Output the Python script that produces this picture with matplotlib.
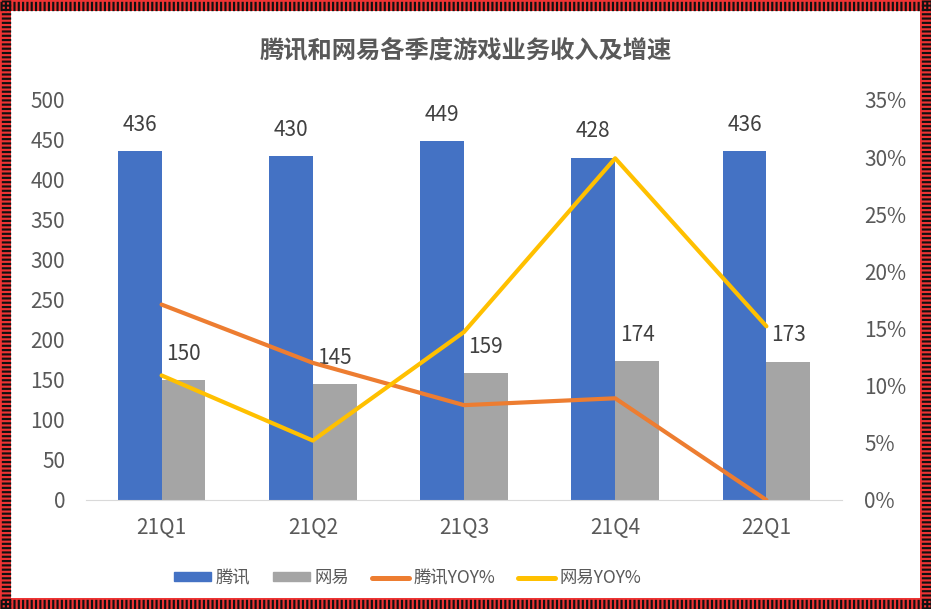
import matplotlib
matplotlib.use("Agg")
import matplotlib.pyplot as plt
import numpy as np
from matplotlib.patches import Rectangle
from matplotlib.lines import Line2D

plt.rcParams['font.family'] = ['Noto Sans CJK SC', 'DejaVu Sans']
plt.rcParams['lines.scale_dashes'] = False

categories = ['21Q1', '21Q2', '21Q3', '21Q4', '22Q1']
tencent = [436, 430, 449, 428, 436]
netease = [150, 145, 159, 174, 173]
tencent_yoy = [17.1, 12.0, 8.3, 8.9, 0.0]
netease_yoy = [10.9, 5.2, 14.7, 29.9, 15.2]
left_ticks = [0, 50, 100, 150, 200, 250, 300, 350, 400, 450, 500]
right_ticks = [0, 5, 10, 15, 20, 25, 30, 35]

W, H = 931, 609
fig = plt.figure(figsize=(W/100, H/100), dpi=100)

# border
bw = 11
d = 1.55
for (x0, y0, w, h, horiz) in [(0, H-bw, W, bw, True), (0, 0, W, bw, True),
                               (0, 0, bw, H, False), (W-bw, 0, bw, H, False)]:
    fig.patches.append(Rectangle((x0/W, y0/H), w/W, h/H, transform=fig.transFigure,
                                 facecolor='#EE3333', edgecolor='none', zorder=0))
    if horiz:
        yc = (y0 + h/2)/H
        fig.add_artist(Line2D([x0/W, (x0+w)/W], [yc, yc], transform=fig.transFigure,
                              color='#111111', lw=h*0.72*0.85, linestyle=(0, (d, d)),
                              solid_capstyle='butt', dash_capstyle='butt'))
    else:
        xc = (x0 + w/2)/W
        fig.add_artist(Line2D([xc, xc], [y0/H, (y0+h)/H], transform=fig.transFigure,
                              color='#111111', lw=w*0.72*0.85, linestyle=(0, (d, d)),
                              solid_capstyle='butt', dash_capstyle='butt'))

ax = fig.add_axes([86/W, 1-500/H, (842-86)/W, 400/H])
x = np.arange(len(categories))
bwid = 0.29
ax.bar(x - bwid/2, tencent, bwid, color='#4472C4', zorder=2)
ax.bar(x + bwid/2, netease, bwid, color='#A5A5A5', zorder=2)
ax.set_xlim(-0.5, len(categories)-0.5)
ax.set_ylim(0, 500)
ax.set_yticks(left_ticks)
ax.set_xticks(x)
ax.set_xticklabels(categories)
for s in ['top', 'right', 'left']:
    ax.spines[s].set_visible(False)
ax.spines['bottom'].set_color('#D9D9D9')
ax.tick_params(axis='both', length=0, labelsize=15, colors='#595959')
ax.tick_params(axis='x', pad=12)
ax.tick_params(axis='y', pad=15)

for xi, v in zip(x, tencent):
    ax.annotate(str(v), (xi - bwid/2, v), xytext=(0, 11), textcoords='offset points',
                ha='center', va='bottom', fontsize=15, color='#404040')
for xi, v in zip(x, netease):
    ax.annotate(str(v), (xi + bwid/2, v), xytext=(0, 11), textcoords='offset points',
                ha='center', va='bottom', fontsize=15, color='#404040')

ax2 = ax.twinx()
ax2.plot(x, tencent_yoy, color='#ED7D31', lw=3, zorder=3, solid_capstyle='round')
ax2.plot(x, netease_yoy, color='#FFC000', lw=3, zorder=3, solid_capstyle='round')
ax2.set_ylim(0, 35)
ax2.set_yticks(right_ticks)
ax2.set_yticklabels([f'{t}%' for t in right_ticks])
for s in ['top', 'right', 'left', 'bottom']:
    ax2.spines[s].set_visible(False)
ax2.tick_params(axis='y', length=0, labelsize=15, colors='#595959', pad=16)

fig.text(466/W, 1-50/H, '腾讯和网易各季度游戏业务收入及增速', ha='center', va='center',
         fontsize=17.5, fontweight='bold', color='#595959')

handles = [Rectangle((0, 0), 1, 1, color='#4472C4'), Rectangle((0, 0), 1, 1, color='#A5A5A5'),
           Line2D([], [], color='#ED7D31', lw=3.6, solid_capstyle='round'),
           Line2D([], [], color='#FFC000', lw=3.6, solid_capstyle='round')]
fig.legend(handles, ['腾讯', '网易', '腾讯YOY%', '网易YOY%'], loc='center',
           bbox_to_anchor=(408/W, 1-578/H), ncol=4, frameon=False, fontsize=12.5,
           labelcolor='#595959', handlelength=2.1, handleheight=0.4,
           handletextpad=0.3, columnspacing=1.3)

fig.savefig('out.png', dpi=100)
